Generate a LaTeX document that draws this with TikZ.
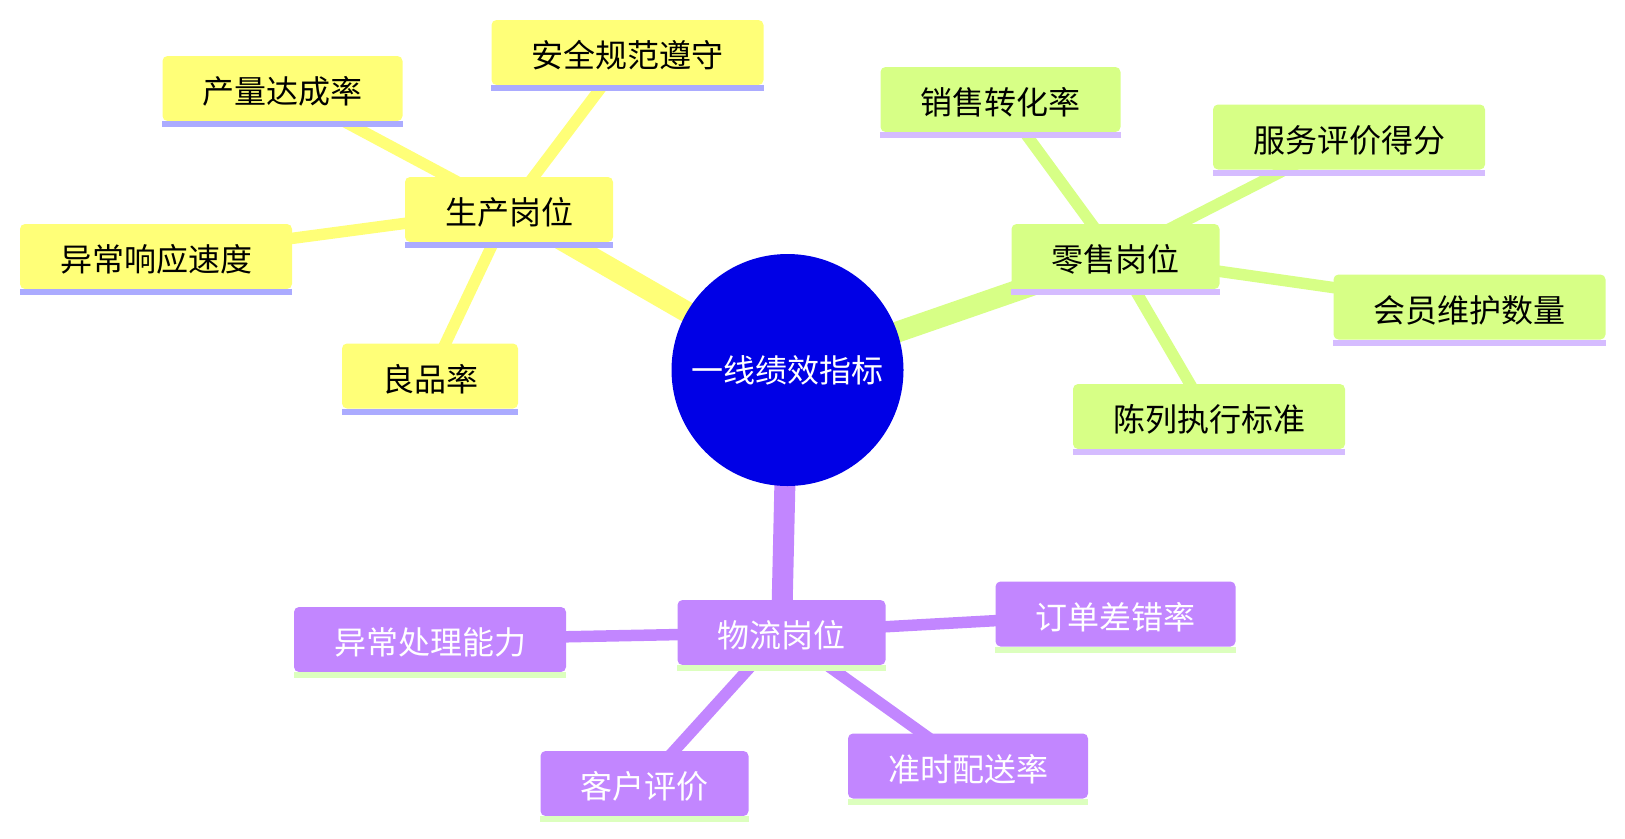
\documentclass[tikz,border=0pt]{standalone}
\usepackage{fontspec}
\setmainfont{Noto Sans CJK SC}
\usetikzlibrary{backgrounds}
\definecolor{rootc}{HTML}{0000E6}
\definecolor{ycol}{HTML}{FFFF78}
\definecolor{yline}{HTML}{ABABFF}
\definecolor{gcol}{HTML}{D7FF86}
\definecolor{gline}{HTML}{D5BCFF}
\definecolor{pcol}{HTML}{C286FF}
\definecolor{pline}{HTML}{DCFFBE}
\begin{document}
\begin{tikzpicture}[x=1pt,y=-1pt,
  mbox/.style={rectangle, rounded corners=5pt, minimum height=65pt, inner xsep=40pt, inner ysep=0pt, text height=30pt, text depth=0pt, font=\fontsize{32pt}{36pt}\selectfont},
  ybox/.style={mbox, fill=ycol, text=black},
  gbox/.style={mbox, fill=gcol, text=black},
  pbox/.style={mbox, fill=pcol, text=white},
  rootnode/.style={circle, fill=rootc, text=white, minimum size=232pt, inner sep=0pt, font=\fontsize{32pt}{36pt}\selectfont},
  mainedge/.style={line width=21pt},
  leafedge/.style={line width=11.5pt}
]
\useasboundingbox (0,0) rectangle (1625,838);
\node[rootnode] (root) at (787.5,370) {一线绩效指标};
\node[ybox] (p) at (509,209.5) {生产岗位};
\node[gbox] (r) at (1115.5,256.5) {零售岗位};
\node[pbox] (l) at (781.5,632.5) {物流岗位};
\node[ybox] (p1) at (627.5,52.5) {安全规范遵守};
\node[ybox] (p2) at (282.5,88.5) {产量达成率};
\node[ybox] (p3) at (156,256.5) {异常响应速度};
\node[ybox] (p4) at (430,376) {良品率};
\node[gbox] (r1) at (1000.5,99.5) {销售转化率};
\node[gbox] (r2) at (1349,137) {服务评价得分};
\node[gbox] (r3) at (1469.5,307) {会员维护数量};
\node[gbox] (r4) at (1209,416.5) {陈列执行标准};
\node[pbox] (l1) at (430,639.5) {异常处理能力};
\node[pbox] (l2) at (1115.5,614) {订单差错率};
\node[pbox] (l3) at (644.5,783.5) {客户评价};
\node[pbox] (l4) at (968,766) {准时配送率};
\foreach \n/\c in {p/yline,p1/yline,p2/yline,p3/yline,p4/yline,r/gline,r1/gline,r2/gline,r3/gline,r4/gline,l/pline,l1/pline,l2/pline,l3/pline,l4/pline}
  \fill[\c] (\n.south west) rectangle ([yshift=-6pt]\n.south east);
\begin{scope}[on background layer]
\draw[ycol, mainedge] (root.center) -- (p.center);
\draw[gcol, mainedge] (root.center) -- (r.center);
\draw[pcol, mainedge] (root.center) -- (l.center);
\foreach \n in {p1,p2,p3,p4} \draw[ycol, leafedge] (p.center) -- (\n.center);
\foreach \n in {r1,r2,r3,r4} \draw[gcol, leafedge] (r.center) -- (\n.center);
\foreach \n in {l1,l2,l3,l4} \draw[pcol, leafedge] (l.center) -- (\n.center);
\end{scope}
\end{tikzpicture}
\end{document}
